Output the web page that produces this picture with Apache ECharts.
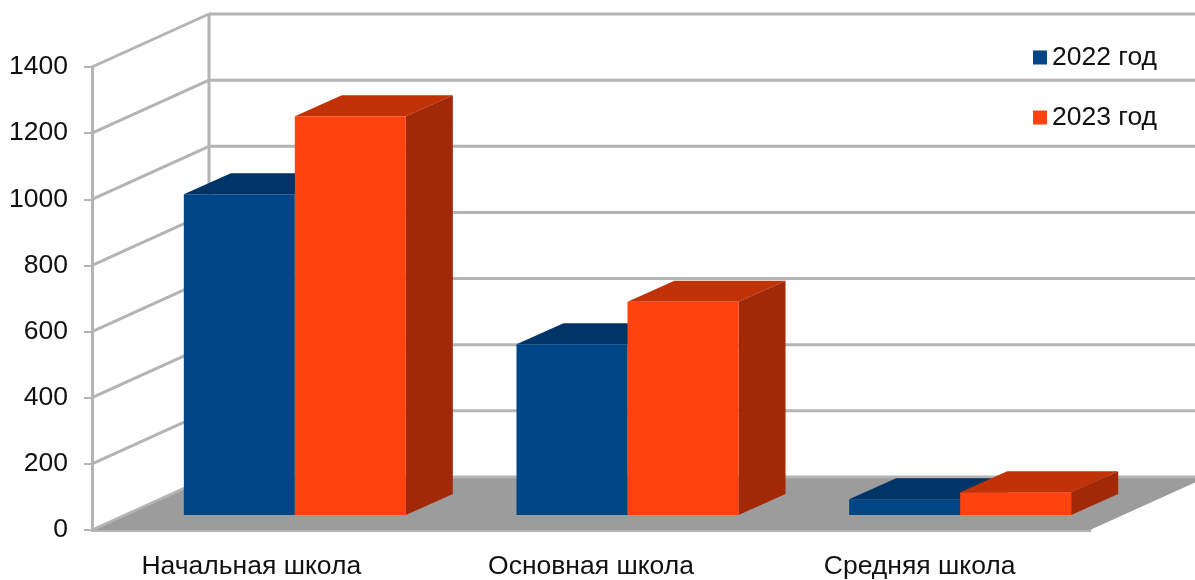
<!DOCTYPE html>
<html>
<head>
<meta charset="utf-8">
<title>Школы</title>
<script src="https://cdn.jsdelivr.net/npm/echarts@6/dist/echarts.min.js"></script>
<style>
  html, body { margin: 0; padding: 0; background: #fff; }
  #chart { width: 1195px; height: 580px; }
</style>
</head>
<body>
<div id="chart"></div>
<script>
const categories = ["Начальная школа", "Основная школа", "Средняя школа"];
const values2022 = [970, 516, 48];
const values2023 = [1206, 645, 69];
const yTicks = [0, 200, 400, 600, 800, 1000, 1200, 1400];

const font = '"Liberation Sans", Arial, sans-serif';
const lineColor = "#b4b4b4";

// сдвиг задней стенки и параметры столбцов, в пикселях
const wallDx = 117, wallDy = -53;
const barDx = 36.5, barDy = -15;
const depthDx = 47, depthDy = -21;
const barW = 111;
// подписи категорий в оригинале чуть левее центра
const labelShift = [14, 0, 8];

function poly(points, color) {
  return { type: "polygon", shape: { points: points }, style: { fill: color } };
}

function line(x1, y1, x2, y2) {
  return {
    type: "line",
    shape: { x1: x1, y1: y1, x2: x2, y2: y2 },
    style: { stroke: lineColor, lineWidth: 3 }
  };
}

// стенки и пол: по одной записи на каждое деление оси
function renderWall(params, api) {
  const sys = params.coordSys;
  const y = api.coord([0, api.value(1)])[1];
  const left = sys.x, right = sys.x + sys.width;
  const children = [
    line(left, y, left + wallDx, y + wallDy),
    line(left + wallDx, y + wallDy, right + wallDx, y + wallDy)
  ];
  if (api.value(1) === 0) {
    children.unshift(poly([
      [left, y], [left + wallDx, y + wallDy], [right + wallDx, y + wallDy], [right, y]
    ], "#9c9c9c"));
    children.push(line(left + wallDx, sys.y + wallDy, left + wallDx, y + wallDy));
  }
  return { type: "group", children: children };
}

// столбец: side = -1 слева от центра категории, 0 справа
function makeBar(side, front, top, right) {
  return function (params, api) {
    const idx = api.value(0);
    const p = api.coord([idx, api.value(1)]);
    const base = api.coord([idx, 0]);
    const x1 = p[0] + barDx + side * barW, x2 = x1 + barW;
    const yT = p[1] + barDy, yB = base[1] + barDy;
    return {
      type: "group",
      children: [
        poly([[x1, yT], [x2, yT], [x2 + depthDx, yT + depthDy], [x1 + depthDx, yT + depthDy]], top),
        poly([[x2, yT], [x2 + depthDx, yT + depthDy], [x2 + depthDx, yB + depthDy], [x2, yB]], right),
        poly([[x1, yT], [x2, yT], [x2, yB], [x1, yB]], front)
      ]
    };
  };
}

const chart = echarts.init(document.getElementById("chart"), null, { renderer: "canvas" });
chart.setOption({
  animation: false,
  backgroundColor: "#fff",
  textStyle: { fontFamily: font },
  grid: { left: 92, right: 105, top: 67, bottom: 44 },
  legend: {
    right: 33,
    top: 39,
    orient: "vertical",
    icon: "rect",
    itemWidth: 14,
    itemHeight: 14,
    itemGap: 33,
    selectedMode: false,
    textStyle: { fontFamily: font, fontSize: 26.5, color: "#111" },
    data: ["2022 год", "2023 год"]
  },
  xAxis: {
    type: "category",
    data: categories.map(function (name, i) {
      return { value: name, textStyle: { padding: [0, labelShift[i], 0, 0] } };
    }),
    axisLine: { lineStyle: { color: lineColor, width: 3 } },
    axisTick: { alignWithLabel: false, length: 8, lineStyle: { color: lineColor, width: 1.5 } },
    axisLabel: { fontSize: 26.5, color: "#111", margin: 23, fontFamily: font }
  },
  yAxis: {
    type: "value",
    min: yTicks[0],
    max: yTicks[yTicks.length - 1],
    interval: yTicks[1] - yTicks[0],
    splitLine: { show: false },
    axisLine: { show: true, lineStyle: { color: lineColor, width: 3 } },
    axisTick: { show: true, length: 8, lineStyle: { color: lineColor, width: 2 } },
    axisLabel: {
      fontSize: 26.5,
      color: "#111",
      margin: 24,
      fontFamily: font,
      formatter: function (v) { return String(v); }
    }
  },
  series: [
    {
      type: "custom",
      name: "стенки",
      silent: true,
      z: 1,
      clip: false,
      renderItem: renderWall,
      data: yTicks.map(function (t) { return [0, t]; })
    },
    {
      type: "custom",
      name: "2022 год",
      silent: true,
      z: 3,
      clip: false,
      itemStyle: { color: "#004586" },
      renderItem: makeBar(-1, "#004586", "#003366", "#002b55"),
      encode: { x: 0, y: 1 },
      data: values2022.map(function (v, i) { return [i, v]; })
    },
    {
      type: "custom",
      name: "2023 год",
      silent: true,
      z: 4,
      clip: false,
      itemStyle: { color: "#ff420e" },
      renderItem: makeBar(0, "#ff420e", "#c13209", "#a12907"),
      encode: { x: 0, y: 1 },
      data: values2023.map(function (v, i) { return [i, v]; })
    }
  ]
});
</script>
</body>
</html>
